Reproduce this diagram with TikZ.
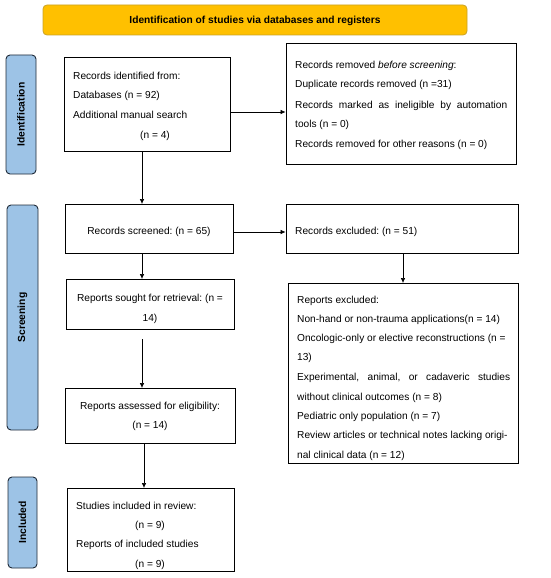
\documentclass[tikz,border=0pt]{standalone}
\usepackage{fontspec}
\setmainfont{Liberation Sans}
\usetikzlibrary{arrows.meta}
\frenchspacing
\definecolor{bannerfill}{HTML}{FFC000}
\definecolor{bannerdraw}{HTML}{C9A227}
\definecolor{sidefill}{HTML}{9DC3E6}
\definecolor{sidedraw}{HTML}{1F2A38}
\begin{document}
\begin{tikzpicture}[x=1pt,y=-1pt,
  box/.style={draw=black,line width=0.9pt},
  txt/.style={inner sep=0pt,anchor=base west,font=\fontsize{10.15}{12}\selectfont\frenchspacing},
  ctxt/.style={inner sep=0pt,anchor=base,font=\fontsize{10.15}{12}\selectfont\frenchspacing},
  side/.style={draw=sidedraw,fill=sidefill,line width=0.9pt,rounded corners=4pt},
  lbl/.style={rotate=90,inner sep=0pt,font=\fontsize{10.3}{12}\selectfont\bfseries},
  arr/.style={-{Latex[length=5pt,width=4.5pt]},line width=0.6pt}]
\useasboundingbox (0,0) rectangle (550,578);
% banner
\draw[draw=bannerdraw,fill=bannerfill,line width=0.8pt,rounded corners=4pt] (43,5) rectangle (467,35);
\node[inner sep=0pt,font=\fontsize{10.2}{12}\selectfont\bfseries] (banner) at (255,21) {Identification of studies via databases and registers};
% side labels
\draw[side] (6,55) rectangle (36,174);
\node[lbl] (lid) at (21,114.5) {Identification};
\draw[side] (7,205) rectangle (38,430);
\node[lbl] (lsc) at (22.5,317.5) {Screening};
\draw[side] (8,477) rectangle (37,568);
\node[lbl] (lin) at (22.5,522.5) {Included};
% box 1
\node[box,minimum width=166pt,minimum height=94pt,inner sep=0pt] (b1) at (147,104) {};
\node[txt] at (73,80) {Records identified from:};
\node[txt] at (73,99) {Databases (n = 92)};
\node[txt] at (73,118) {Additional manual search};
\node[ctxt] at (155,138) {(n = 4)};
% box 2
\node[box,minimum width=230pt,minimum height=121pt,inner sep=0pt] (b2) at (401,103.5) {};
\node[txt] at (295,69) {Records removed \textit{before screening}:};
\node[txt] at (295,88) {Duplicate records removed (n =31)};
\node[txt] at (295,108) {\makebox[212pt][s]{Records marked as ineligible by automation}};
\node[txt] at (295,127) {tools (n = 0)};
\node[txt] at (295,147) {Records removed for other reasons (n = 0)};
% screened
\node[box,minimum width=168pt,minimum height=49pt,inner sep=0pt] (b3) at (149,228.5) {};
\node[ctxt] at (149,234) {Records screened: (n = 65)};
% excluded
\node[box,minimum width=232pt,minimum height=49pt,inner sep=0pt] (b4) at (402,228.5) {};
\node[txt] at (295,234) {Records excluded: (n = 51)};
% sought
\node[box,minimum width=168pt,minimum height=50pt,inner sep=0pt] (b5) at (150,304) {};
\node[ctxt] at (150,301) {Reports sought for retrieval: (n =};
\node[ctxt] at (150,321) {14)};
% reports excluded
\node[box,minimum width=230pt,minimum height=180pt,inner sep=0pt] (b6) at (403,373) {};
\node[txt] at (297,303) {Reports excluded:};
\node[txt] at (297,322) {Non-hand or non-trauma applications(n = 14)};
\node[txt] at (297,341) {Oncologic-only or elective reconstructions (n =};
\node[txt] at (297,360) {13)};
\node[txt] at (297,380) {\makebox[213pt][s]{Experimental, animal, or cadaveric studies}};
\node[txt] at (297,400) {without clinical outcomes (n = 8)};
\node[txt] at (297,419) {Pediatric only population (n = 7)};
\node[txt] at (297,438) {Review articles or technical notes lacking origi-};
\node[txt] at (297,458) {nal clinical data (n = 12)};
% assessed
\node[box,minimum width=170pt,minimum height=55pt,inner sep=0pt] (b7) at (150,415.5) {};
\node[ctxt] at (150,409) {Reports assessed for eligibility:};
\node[ctxt] at (150,428) {(n = 14)};
% included
\node[box,minimum width=167pt,minimum height=83pt,inner sep=0pt] (b8) at (150.5,529.5) {};
\node[txt] at (76,509) {Studies included in review:};
\node[ctxt] at (150,528) {(n = 9)};
\node[txt] at (76,547) {Reports of included studies};
\node[ctxt] at (150,567) {(n = 9)};
% arrows
\draw[arr] (b1.east |- 0,112) -- (b2.west |- 0,112);
\draw[arr] (142,151) -- (142,204);
\coordinate (c1) at (b3.east |- 0,232);
\draw[arr] (c1) -- (b4.west |- c1);
\draw[arr] (142,253) -- (142,279);
\draw[arr] (403,253) -- (403,283);
\coordinate (c2) at (142,339);
\draw[arr] (c2) -- (142,388);
\draw[arr] (144,443) -- (144,488);
\end{tikzpicture}
\end{document}
